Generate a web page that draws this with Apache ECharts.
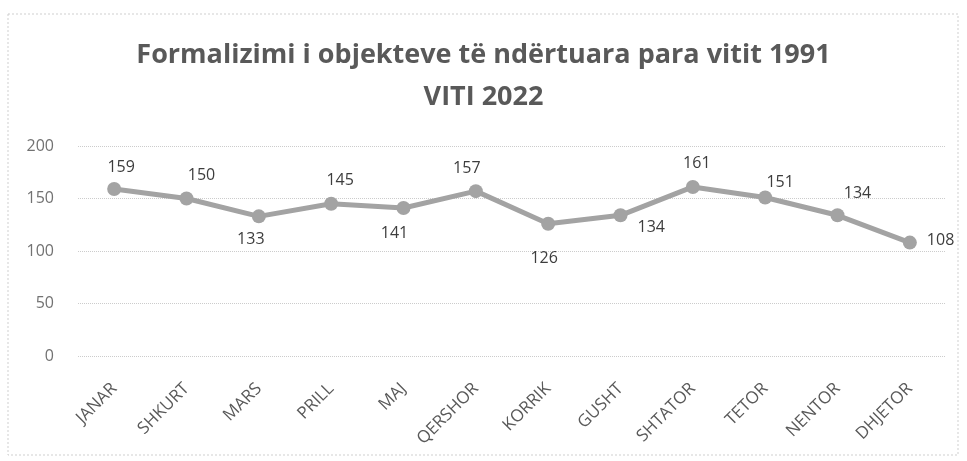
<!DOCTYPE html>
<html>
<head>
<meta charset="utf-8">
<script src="https://cdn.jsdelivr.net/npm/echarts@6/dist/echarts.min.js"></script>
<style>
  html, body { margin: 0; padding: 0; background: #fff; }
  #main { width: 967px; height: 461px; }
</style>
</head>
<body>
<div id="main"></div>
<script>
var months = ['JANAR', 'SHKURT', 'MARS', 'PRILL', 'MAJ', 'QERSHOR', 'KORRIK', 'GUSHT', 'SHTATOR', 'TETOR', 'NENTOR', 'DHJETOR'];
var values = [159, 150, 133, 145, 141, 157, 126, 134, 161, 151, 134, 108];
var yTicks = [0, 50, 100, 150, 200];

// where each value label sits, like in the excel chart
var labelPlace = ['top', 'top', 'bottom', 'top', 'bottom', 'top', 'bottom', 'right', 'top', 'top', 'top', 'right'];
var labelShift = [[7, -2], [15, -3], [-8, 3], [9, -3], [-9, 5], [-9, -3], [-4, 15], [5, 12], [4, -4], [15, 5], [20, -2], [5, -2]];

var seriesData = values.map(function (v, i) {
    return {
        value: v,
        label: { position: labelPlace[i], offset: labelShift[i] }
    };
});

var myChart = echarts.init(document.getElementById('main'));
var option = {
    backgroundColor: '#fff',
    title: {
        text: 'Formalizimi i objekteve të ndërtuara para vitit 1991\nVITI 2022',
        left: 'center',
        top: 29,
        textStyle: {
            fontFamily: 'Open Sans',
            fontSize: 27,
            fontWeight: 'bold',
            color: '#595959',
            lineHeight: 42
        }
    },
    grid: { left: 78, right: 21, top: 146, bottom: 105 },
    xAxis: {
        type: 'category',
        data: months,
        boundaryGap: true,
        axisLine: { show: false },
        axisTick: { show: false },
        axisLabel: {
            rotate: 45,
            margin: 30,
            fontFamily: 'Open Sans',
            fontSize: 17,
            color: '#595959'
        }
    },
    yAxis: {
        type: 'value',
        min: yTicks[0],
        max: yTicks[yTicks.length - 1],
        interval: 50,
        axisLine: { show: false },
        axisTick: { show: false },
        axisLabel: {
            margin: 24,
            fontFamily: 'Open Sans',
            fontSize: 16,
            color: '#727272'
        },
        splitLine: { lineStyle: { color: '#cccccc', type: 'dotted', width: 1 } }
    },
    series: [{
        type: 'line',
        data: seriesData,
        symbol: 'circle',
        symbolSize: 14,
        lineStyle: { color: '#a3a3a3', width: 5 },
        itemStyle: { color: '#a3a3a3' },
        label: {
            show: true,
            distance: 5,
            fontFamily: 'Open Sans',
            fontSize: 16,
            color: '#3d3d3d'
        },
        animation: false
    }],
    graphic: [{
        type: 'rect',
        shape: { x: 8, y: 14, width: 950, height: 441 },
        style: { fill: 'none', stroke: '#cfcfcf', lineWidth: 1, lineDash: [2, 2] },
        silent: true
    }]
};
myChart.setOption(option);
</script>
</body>
</html>
